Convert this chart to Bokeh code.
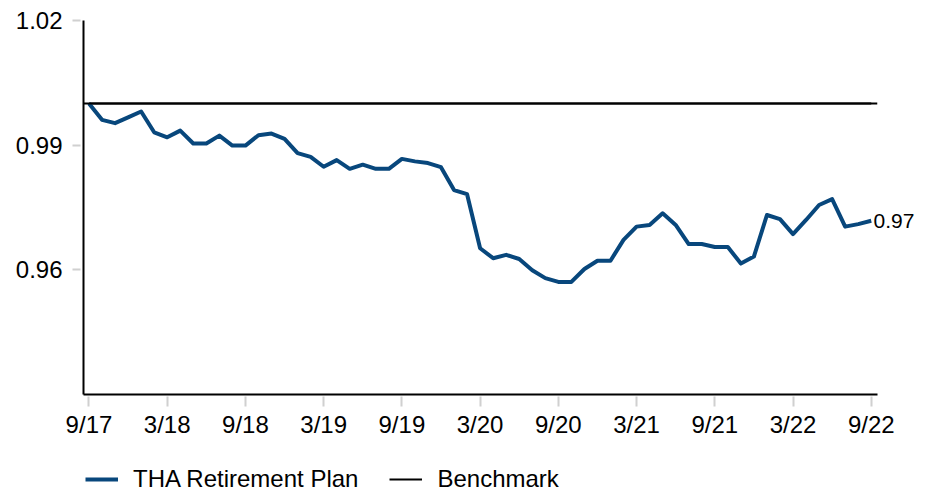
from bokeh.plotting import figure
from bokeh.layouts import column
from bokeh.models import (ColumnDataSource, FixedTicker, Span, Legend, LegendItem, Range1d,
                          LinearAxis, NumeralTickFormatter)
from bokeh.embed import file_html
from bokeh.resources import INLINE

# ---- data ----
months = list(range(61))  # monthly, 9/17 .. 9/22
tha = [1.0000, 0.9961, 0.9953, 0.9967, 0.9981, 0.9931, 0.9919, 0.9935, 0.9904, 0.9904,
       0.9923, 0.9899, 0.9899, 0.9924, 0.9928, 0.9915, 0.9881, 0.9872, 0.9848, 0.9864,
       0.9843, 0.9853, 0.9843, 0.9843, 0.9867, 0.9861, 0.9857, 0.9847, 0.9792, 0.9782,
       0.9652, 0.9628, 0.9636, 0.9626, 0.9599, 0.9580, 0.9571, 0.9571, 0.9602, 0.9622,
       0.9622, 0.9672, 0.9704, 0.9708, 0.9736, 0.9708, 0.9662, 0.9662, 0.9655, 0.9655,
       0.9615, 0.9632, 0.9732, 0.9722, 0.9686, 0.9720, 0.9756, 0.9770, 0.9704, 0.9710,
       0.9718]
benchmark = [1.0] * 61
x_tick_pos = [0, 6, 12, 18, 24, 30, 36, 42, 48, 54, 60]
x_tick_labels = ["9/17", "3/18", "9/18", "3/19", "9/19", "3/20", "9/20", "3/21", "9/21", "3/22", "9/22"]
y_ticks = [0.96, 0.99, 1.02]
series_names = ["THA Retirement Plan", "Benchmark"]

FONT = "Liberation Sans"
BLUE = "#08477c"

p = figure(width=919, height=445, output_backend="svg", toolbar_location=None,
           x_range=Range1d(-0.42, 60.48), y_range=Range1d(0.93, 1.02),
           min_border_left=83, min_border_right=42, min_border_top=20, min_border_bottom=51)
p.outline_line_color = None
p.xgrid.visible = False
p.ygrid.visible = False
p.background_fill_color = "white"
p.border_fill_color = "white"

src = ColumnDataSource(dict(m=months, tha=tha, bench=benchmark))

span = Span(location=benchmark[0], dimension="width", line_color="black", line_width=2)
p.add_layout(span)
r_bench = p.line("m", "bench", source=src, line_color="black", line_width=2)
r_tha = p.line("m", "tha", source=src, line_color=BLUE, line_width=4, line_join="round")

# axes
for ax in (p.xaxis[0], p.yaxis[0]):
    ax.axis_line_color = "black"
    ax.axis_line_width = 2
    ax.major_tick_line_color = "#d0d0d0"
    ax.major_tick_line_width = 2
    ax.minor_tick_line_color = None
    ax.major_label_text_font = FONT
    ax.major_label_text_font_size = "24px"
    ax.major_label_text_color = "black"

p.xaxis[0].ticker = FixedTicker(ticks=x_tick_pos)
p.xaxis[0].major_label_overrides = {t: l for t, l in zip(x_tick_pos, x_tick_labels)}
p.xaxis[0].major_tick_in = -2
p.xaxis[0].major_tick_out = 12
p.xaxis[0].major_label_standoff = 4

p.yaxis[0].ticker = FixedTicker(ticks=y_ticks)
p.yaxis[0].formatter = NumeralTickFormatter(format="0.00")
p.yaxis[0].major_tick_in = -3
p.yaxis[0].major_tick_out = 11
p.yaxis[0].major_label_standoff = 10

# end-value label as a right-side axis label (not clipped by the frame)
end_axis = LinearAxis(ticker=FixedTicker(ticks=[tha[-1]]),
                      formatter=NumeralTickFormatter(format="0.00"),
                      axis_line_color=None, major_tick_line_color=None,
                      minor_tick_line_color=None, major_tick_in=0, major_tick_out=0,
                      major_label_standoff=-4, major_label_text_font=FONT,
                      major_label_text_font_size="21px", major_label_text_color="black")
p.add_layout(end_axis, "right")

# ---- legend strip below the chart (series drawn out of view, only legend shows) ----
pl = figure(width=919, height=46, output_backend="svg", toolbar_location=None,
            x_range=Range1d(-0.42, 60.48), y_range=Range1d(0.0, 0.5),
            x_axis_type=None, y_axis_type=None, min_border=0)
pl.outline_line_color = None
pl.xgrid.visible = False
pl.ygrid.visible = False
pl.background_fill_color = "white"
pl.border_fill_color = "white"
l_tha = pl.line("m", "tha", source=src, line_color=BLUE, line_width=4)
l_bench = pl.line("m", "bench", source=src, line_color="black", line_width=2)

legend = Legend(items=[LegendItem(label=series_names[0], renderers=[l_tha]),
                       LegendItem(label=series_names[1], renderers=[l_bench])],
                location=(2, -2), orientation="horizontal",
                padding=0, margin=0, spacing=31, label_standoff=15,
                glyph_width=33, glyph_height=24, label_height=24,
                label_text_font=FONT, label_text_font_size="24px", label_text_color="black",
                border_line_alpha=0, background_fill_alpha=0)
pl.add_layout(legend, "center")

layout = column(p, pl, spacing=0)
open("out.html", "w").write(file_html(layout, INLINE))
